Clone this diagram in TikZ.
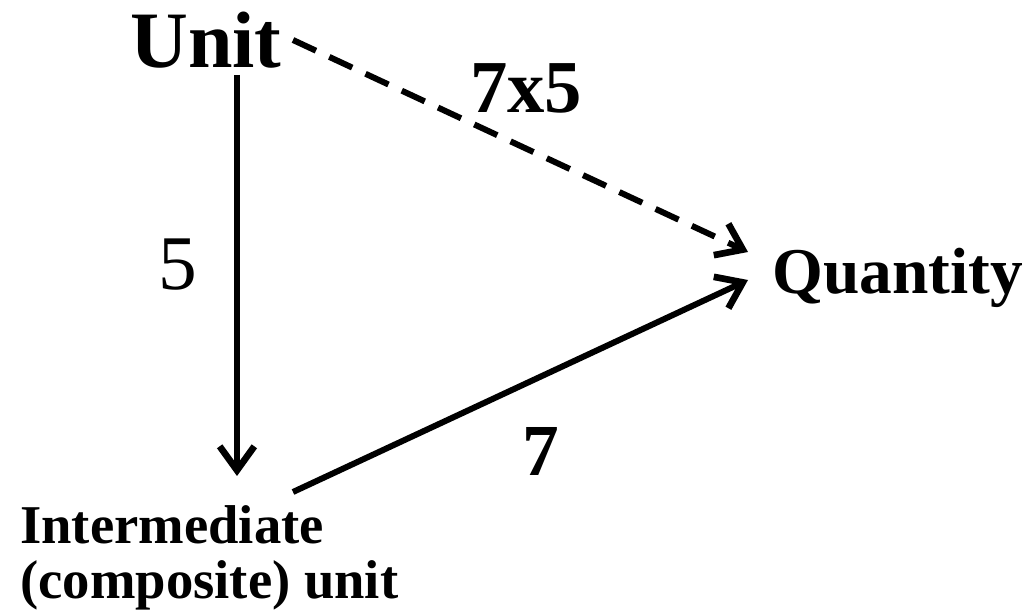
\documentclass[tikz,border=0pt]{standalone}
\usepackage{fontspec}
\setmainfont{Liberation Serif}
\usetikzlibrary{arrows.meta}
\tikzset{
  lbl/.style={inner sep=0pt, anchor=base west},
  conn/.style={line width=4.5pt, -{Straight Barb[length=18pt,width=26pt,line width=5pt]}},
  dconn/.style={conn, dash pattern=on 19pt off 11pt},
}
\begin{document}
\begin{tikzpicture}[x=0.75pt,y=-0.75pt]
\useasboundingbox (0,0) rectangle (1025,616);
\node[lbl, font=\bfseries\fontsize{60pt}{60pt}\selectfont] (unit) at (130,68) {Unit};
\node[lbl, font=\bfseries\fontsize{49pt}{49pt}\selectfont] (qty) at (772,294) {Quantity};
\node[lbl, font=\bfseries\fontsize{41pt}{41pt}\selectfont] (inter) at (20,543) {Intermediate};
\node[lbl, font=\bfseries\fontsize{41pt}{41pt}\selectfont] (comp) at (20,598) {(composite) unit};
\node[lbl, font=\bfseries\fontsize{56pt}{56pt}\selectfont] (l75) at (470,113) {7x5};
\node[lbl, font=\fontsize{58pt}{58pt}\selectfont] (l5) at (158,290) {5};
\node[lbl, font=\bfseries\fontsize{55pt}{55pt}\selectfont] (l7) at (522,475) {7};
\coordinate (uS) at (237,75);
\coordinate (uE) at (293,40);
\coordinate (iN) at (237,476);
\coordinate (iE) at (293,492);
\coordinate (qT) at (748,252);
\coordinate (qB) at (748,280);
\draw[conn] (uS) -- (iN);
\draw[dconn] (uE) -- (qT);
\draw[conn] (iE) -- (qB);
\end{tikzpicture}
\end{document}
